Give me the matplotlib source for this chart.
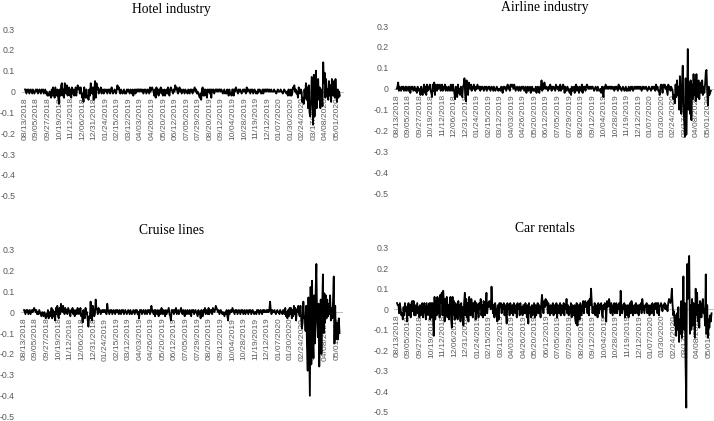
'''
Daily returns of travel-related industries, Aug 2018 - May 2020
'''
import numpy as np
import matplotlib
matplotlib.use('Agg')
from matplotlib import pyplot as plt
from matplotlib.ticker import FuncFormatter


# x-axis: every 16th trading day gets a label
tick_labels = ['08/13/2018', '09/05/2018', '09/27/2018', '10/19/2018', '11/12/2018',
               '12/06/2018', '12/31/2018', '01/24/2019', '02/15/2019', '03/12/2019',
               '04/03/2019', '04/26/2019', '05/20/2019', '06/12/2019', '07/05/2019',
               '07/29/2019', '08/20/2019', '09/12/2019', '10/04/2019', '10/28/2019',
               '11/19/2019', '12/12/2019', '01/07/2020', '01/30/2020', '02/24/2020',
               '03/17/2020', '04/08/2020', '05/01/2020']
label_step = 16

y_ticks = [0.3, 0.2, 0.1, 0, -0.1, -0.2, -0.3, -0.4, -0.5]

# daily returns in percent, one row per labelled block of 16 trading days
hotel_pct = [
    1, 0, -1, 1, 0, 1, -1, 0, 1, 0, -1, 1, 0, -1, 0, 1,
    0, 1, -1, 0, 1, 0, -1, 1, 0, 1, -1, 0, 1, -1, 0, -2,
    -1, -2, 0, -1, -3, 1, -2, 2, -1, -3, 2, 0, -2, 1, -3, -6,
    1, -2, 3, 4, -2, 1, -3, 4, 2, -1, 3, -2, 1, 2, -2, 1,
    -3, 2, -1, 1, -2, 0, 2, -2, 1, 3, 1, 2, -1, 2, 0, -3,
    -1, -5, 2, -2, -3, 1, -3, -2, -4, 1, -2, 4, 1, -1, 2, -4,
    1, 5, -3, 4, 1, 2, -1, 1, 0, 2, -1, 0, 1, -1, 1, 0,
    1, 0, -1, 1, 0, 1, -1, 1, 2, 0, -1, 0, 1, 0, -1, 1,
    3, 1, 2, 0, -1, 1, 0, -1, 0, 1, -1, 0, -1, 1, 0, 1,
    0, -1, 1, 0, -1, 1, -2, 0, 1, -1, 1, 0, 1, 1, 0, 1,
    1, 0, 1, 0, -1, 1, 0, 1, -1, 0, 1, 0, -1, 2, 0, 1,
    2, 1, 0, -2, 1, -3, 2, -1, 1, -2, 1, 0, 2, -1, 1, -2,
    -1, 1, -2, 0, 1, -1, 2, 0, -2, 1, 2, 1, 0, -1, 1, 0,
    3, 1, 2, 0, -1, 1, 2, 0, 1, -1, 0, 1, 0, -1, 1, 0,
    0, -1, 1, 0, -1, 1, 0, 1, -1, 0, 1, 2, 0, 1, -1, 0,
    -1, -2, -3, -1, -4, 1, 2, -2, 1, -2, 1, 0, -3, 1, 0, 1,
    -1, 1, -3, 1, 0, 1, -1, 0, 1, 1, 0, 1, 0, 1, 1, 0,
    1, 0, -1, 0, 1, -1, 0, -1, 1, 0, -2, 1, -1, -1, -2, 1,
    1, -2, 1, 0, 2, 1, 0, -1, 1, 0, 1, 0, -1, 0, 1, 0,
    1, 0, -1, 2, 0, 1, 1, 0, -1, 1, 0, 1, -1, 0, 1, 0,
    -1, 0, -1, 1, 0, 1, 0, -1, 0, 1, -1, 1, 0, 1, 0, 1,
    1, 0, 1, 0, 0, 1, 0, 0, 0, 1, 0, 0, -1, 0, 1, 0,
    0, 0, 1, 0, 0, -1, 0, 1, 0, 0, -1, 0, -2, 1, -1, -2,
    1, -2, -1, 2, 1, 3, 0, 1, -1, 0, -3, 2, 1, -1, 1, 0,
    -5, -3, -6, 1, -3, 4, -4, 2, -8, 3, -10, -12, -6, 7, 6, -16,
    8, -12, 5, 10, -8, 3, 6, -4, 2, -8, 1, -3, -7, 14, 4, 9,
    -3, 6, -2, 1, -4, 5, -2, 3, -5, 6, 1, -2, 5, -3, 6, -1,
    -5, 1, -3, 0, -2,
]

airline_pct = [
    0, 1, 3, -1, 1, 0, -1, 1, 0, 1, -1, 0, 1, -1, 1, 0,
    -1, 1, 0, -2, 1, 0, 1, -1, 0, 1, -1, 0, -2, 1, -1, 0,
    -1, -3, 1, -2, -3, 0, 2, -2, 1, -3, 2, -1, 1, 0, 2, -1,
    -2, -4, 2, -1, 3, -3, 2, 1, -1, 2, 0, 1, 2, -1, 1, 2,
    -1, 1, 0, 2, -1, 1, 0, -1, 1, 0, -1, 2, 1, -1, 2, 0,
    -2, -5, 1, -3, -4, 2, -2, 0, -3, 1, -1, -4, 1, 2, 5, -3,
    -6, 4, 1, -3, 3, 1, 0, 2, -1, 1, 0, 2, 0, -1, 1, 0,
    2, 1, 0, 1, -1, 1, 0, 1, 0, -1, 1, 0, 1, -1, 0, 1,
    0, 1, -1, 0, 1, 0, -1, 1, 0, -1, 0, 1, 0, -1, 0, 0,
    -1, 1, 0, -2, 1, 0, 1, 0, -1, 1, 2, 0, 1, -1, 2, 1,
    2, 1, 0, 2, 1, -1, 0, 1, 0, -1, 1, 0, -1, 1, 0, 1,
    1, -1, 0, 1, -2, 0, 1, -1, 0, 1, -2, 0, 1, -1, 0, -1,
    -1, 1, -2, 0, 1, -1, -2, 1, 0, 4, -1, 2, 0, 3, 1, 0,
    1, 0, -1, 1, 0, 2, 1, -1, 1, 0, 1, 0, -1, 2, 1, 0,
    1, -1, 0, 2, -1, 1, 0, 2, 1, -2, 1, 0, -1, 1, 0, -1,
    -2, 0, -3, 1, -1, 0, 1, -2, 1, 2, -1, 1, 0, -2, 1, 0,
    -1, 2, -2, 1, 0, 1, -1, 1, 2, 1, 0, 1, 0, 1, 0, 1,
    1, 0, -1, 0, 1, 0, -1, 1, 0, -1, -1, 0, -2, 1, -1, -4,
    1, 0, 2, 1, 0, 1, 0, 1, 1, 0, 1, 0, 1, 0, -1, 1,
    0, 1, 0, -1, 2, 0, 1, 0, -1, 0, 1, 0, -1, 0, 1, -1,
    0, -1, 1, 0, -1, 1, 0, 1, -1, 0, 1, 0, 1, 0, 1, 0,
    1, 0, 1, 0, -1, 1, 0, 1, 0, 0, 1, 0, -1, 0, 1, 0,
    0, -1, 1, 0, 1, 0, 1, -1, 2, 0, 1, -1, -1, -3, 1, 2,
    1, -2, 2, 1, 2, 0, 1, -1, -3, 2, 0, 1, -1, 1, 0, -1,
    -5, -3, -7, 2, -4, 4, -3, 1, -10, 6, -5, -12, 3, 11, -8, -15,
    -23, 5, -22, -6, 19, -10, 3, -12, 4, -15, 2, -5, 7, -3, 4, -6,
    7, -4, 2, 4, -5, 1, 3, -2, 4, -3, 1, -2, 2, 8, 9, -2,
    -8, 1, -3, -2, -1,
]

cruise_pct = [
    1, 0, -1, 1, 0, 1, -1, 0, 1, -1, 0, 1, 0, 1, 2, 1,
    0, 1, -1, 0, -1, 1, 0, -1, -2, 0, -1, -2, 0, -1, -3, -1,
    -2, 1, -3, 0, -2, -1, 2, -3, 1, -2, 0, -4, 2, -1, 3, -2,
    -3, 2, -1, 4, 2, 0, 3, 1, -1, 2, 0, 1, -1, 2, 1, 0,
    -2, 1, 0, 2, -1, 1, -2, 0, 1, -1, 2, 1, -1, 0, 2, -2,
    -1, -5, 1, -2, -3, 2, -1, 0, -4, -7, -2, -3, 5, -2, -4, 3,
    1, -2, -1, 6, 2, 1, -1, 2, 0, 1, -1, 0, 1, 0, 1, 0,
    1, 0, -1, 4, 1, 0, -1, 1, 0, 1, -1, 0, 1, 0, -1, 1,
    0, 1, 0, -1, 1, 0, -1, 1, 0, 1, -1, 0, 1, 0, -1, 0,
    1, 0, -1, 1, 0, -1, 0, 1, 0, -1, 1, 0, 1, -1, 0, -3,
    1, 0, 1, -1, 0, 1, 0, -1, 1, 0, -1, 1, 0, 1, -1, 0,
    3, 1, 0, -1, 1, -2, 1, 0, -1, 1, -2, 0, 1, -1, 2, 0,
    -1, 1, 0, -2, 1, -1, 0, 1, 2, -1, -2, -4, 1, 0, 1, -1,
    1, 0, 2, -1, 0, 1, -1, 0, 1, 2, 0, -1, 1, 0, -2, 1,
    0, -1, 1, 0, -1, 1, 0, -2, 1, 0, 1, -1, 0, 1, 0, -1,
    -2, 1, -1, 0, -3, 1, 0, -2, 1, 0, 2, -1, 1, 0, -1, 2,
    -1, 1, 0, 1, -1, 2, 1, 0, 1, 3, 2, 1, 0, 1, -1, 0,
    1, 0, -1, 0, -1, -2, 0, -1, 1, -2, -4, 1, -1, 0, 1, 0,
    2, 1, 0, -1, 1, 0, 1, -1, 0, 1, 0, -1, 1, 0, 1, -1,
    0, 1, -1, 0, 1, 0, -1, 1, 0, 1, -1, 0, 1, 0, -1, 0,
    0, -1, 1, 0, 1, -1, 0, 1, 0, -1, 1, 0, 1, 0, 0, 1,
    0, 1, 0, 1, 5, 1, -1, 1, 0, 0, 1, 0, -1, 0, 1, 0,
    0, -1, 1, 0, 0, -1, 1, 0, -1, 2, -2, 0, -3, 1, -2, 2,
    -1, 2, -3, 1, -2, 3, -1, 2, -4, 1, 0, 3, -1, -2, 3, -3,
    -8, -5, 5, -3, -2, -9, 3, -16, -28, 7, -18, -40, 12, -25, 15, -12,
    -22, 8, -15, 10, 23, -5, -12, 4, -26, -8, 6, -20, 2, 18, -10, 9,
    -5, 8, -3, 6, -2, 4, -1, 8, -4, 2, -3, 5, 17, -15, 3, -13,
    -5, -8, -13, -3, -10,
]

car_pct = [
    3, 2, 2, -2, 3, 0, -3, -2, -5, 1, -3, 3, -1, 1, -6, 2,
    3, -3, 2, -4, 3, 4, -1, 4, -3, 2, -3, 0, 3, -2, 1, -4,
    2, -3, 1, 3, -4, 2, 3, -2, -5, 3, 0, -3, 2, 3, -5, 3,
    -4, 3, -4, -13, 6, -5, 4, -3, 6, -2, 5, -4, 7, 3, 8, -3,
    9, 4, -6, 5, -3, 6, -4, 2, -5, 3, 6, -5, -9, 6, -3, 4,
    -5, 3, -4, 2, -5, 4, -3, 2, -6, 3, -4, 1, -8, 3, 8, -3,
    5, -4, 3, -6, 6, 3, -3, 5, 2, -4, 3, -1, 4, -5, 3, -2,
    2, -4, 3, 0, 5, -3, 2, -4, 4, 1, -3, 2, 8, -2, 3, 1,
    4, 2, 0, 11, 3, -2, 2, -4, 3, 1, -3, -6, 2, -5, 3, 1,
    3, -2, 2, 0, 3, -3, 2, -2, -7, 3, 0, 2, -3, 3, 1, -2,
    2, -3, 3, 0, -2, 2, -4, 3, 0, 2, -3, 3, -2, 1, -3, 2,
    2, -2, 3, 0, -4, 2, -7, 3, -2, 1, -4, 2, -3, 0, 3, -4,
    2, -3, 1, 3, -2, 2, 0, -4, 3, 7, 2, -2, 4, 1, 5, 2,
    4, -2, 3, 0, -3, 2, -2, 1, 3, -3, 2, -2, 1, 3, -4, 2,
    1, -2, 3, -3, 2, 0, -2, 3, -3, 2, 0, 5, -2, 2, -3, 1,
    -2, 3, -4, 2, 0, -3, 2, -5, -7, 3, -8, -4, 2, -5, 3, 0,
    -3, 2, 4, -2, 3, 4, 1, 3, -2, 4, -3, 5, 2, 10, 3, -2,
    1, -2, 3, -3, 2, 0, -4, 3, -2, 2, 0, 3, -2, -4, 2, 0,
    3, 2, -6, 4, 1, 3, 5, 2, -2, 3, 0, -3, 2, 3, -2, 1,
    3, -2, 2, 0, 3, -3, 9, 1, -2, 2, 0, 3, -4, 2, 1, -3,
    2, -4, 1, 3, -2, 4, 2, -3, 0, 2, -2, 3, 1, -2, 2, -3,
    2, 0, 3, -2, 5, 2, 0, -2, 2, 1, 3, -2, 1, 2, -3, 0,
    2, -2, 3, 1, -3, 2, 3, 0, 3, -2, 3, -3, 1, 2, 3, 1,
    -1, 2, 1, 3, 0, 2, 1, -1, 3, 5, 4, 3, 5, 10, 2, -3,
    -1, -8, -3, -13, -2, -10, 1, -16, -5, -12, 4, -14, -6, 16, -10, 3,
    -27, -48, 22, 5, 21, 26, -12, 2, -10, 5, -8, 3, -5, -14, 10, -3,
    8, -6, 2, -9, 4, 1, -4, 3, 5, -2, 0, -8, 17, -12, 2, -14,
    -5, -9, -3, -6, -2,
]


#画一个子图
def draw_panel(fig, rect, title, title_pos, values_pct, ypad):
    ax = fig.add_axes(rect)
    y = np.array(values_pct) / 100.0
    x = np.arange(len(y))
    ax.plot(x, y, color='black', lw=1.3, zorder=3)

    ax.set_xlim(-4, 440)
    ax.set_ylim(-0.5, 0.3)

    # horizontal axis sits on the zero line, like Excel
    for s in ['top', 'right', 'left']:
        ax.spines[s].set_visible(False)
    ax.spines['bottom'].set_position(('data', 0))
    ax.spines['bottom'].set_color('#bfbfbf')
    ax.spines['bottom'].set_linewidth(0.75)
    ax.spines['bottom'].set_zorder(1)

    ax.set_xticks([i * label_step for i in range(len(tick_labels))])
    ax.set_xticklabels(tick_labels, rotation=90, fontsize=6.1,
                       color='#595959', family='Liberation Sans')
    ax.tick_params(axis='x', length=0, pad=4)

    ax.set_yticks(y_ticks)
    ax.yaxis.set_major_formatter(FuncFormatter(lambda v, p: f'{round(v, 1) + 0:g}'))
    ax.tick_params(axis='y', length=0, pad=ypad, labelsize=6.3, labelcolor='#595959')
    for t in ax.get_yticklabels():
        t.set_family('Liberation Sans')

    fig.text(title_pos[0] / 714, 1 - title_pos[1] / 421, title,
             ha='center', va='center', family='Liberation Serif', fontsize=9.8)
    return ax


if __name__ == '__main__':
    print(len(hotel_pct), len(airline_pct), len(cruise_pct), len(car_pct))

    fig = plt.figure(figsize=(7.14, 4.21), dpi=100)

    draw_panel(fig, [0.031, 0.5352, 0.449, 0.3959], 'Hotel industry', (171.5, 9.5), hotel_pct, 5)
    draw_panel(fig, [0.5516, 0.5409, 0.448, 0.3973], 'Airline industry', (544.5, 7), airline_pct, 3.8)
    draw_panel(fig, [0.0296, 0.0102, 0.450, 0.3976], 'Cruise lines', (171.7, 230.7), cruise_pct, 4.5)
    draw_panel(fig, [0.552, 0.0221, 0.4486, 0.3895], 'Car rentals', (544.5, 228.3), car_pct, 4)

    plt.savefig('out.png', dpi=100)
